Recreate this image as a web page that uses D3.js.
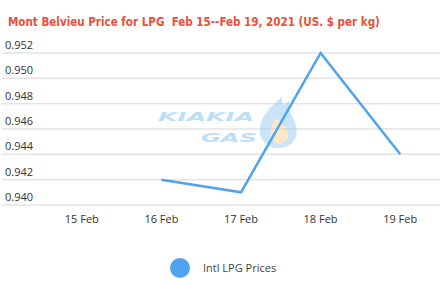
<!DOCTYPE html>
<html>
<head>
<meta charset="utf-8">
<script src="https://cdn.jsdelivr.net/npm/d3@7"></script>
<style>
  body { margin: 0; background: #fff; }
</style>
</head>
<body>
<div id="chart"></div>
<script>
const dates = ["15 Feb", "16 Feb", "17 Feb", "18 Feb", "19 Feb"];
const prices = [null, 0.942, 0.941, 0.952, 0.944];
const yTicks = [0.940, 0.942, 0.944, 0.946, 0.948, 0.950, 0.952];
const seriesName = "Intl LPG Prices";
const title = "Mont Belvieu Price for LPG  Feb 15--Feb 19, 2021 (US. $ per kg)";

const width = 448;
const height = 286;

const svg = d3.select("#chart")
  .append("svg")
  .attr("width", width)
  .attr("height", height);

const x = d3.scaleBand()
  .domain(dates)
  .range([42, 440]);

const y = d3.scaleLinear()
  .domain([0.940, 0.952])
  .range([205, 53]);

// title - scale font so it spans about 372px like the original
const titleText = svg.append("text")
  .attr("x", 8)
  .attr("y", 26)
  .attr("fill", "#e9503a")
  .style("white-space", "pre")
  .style("font-family", "'Liberation Sans Narrow', 'DejaVu Sans Condensed', sans-serif")
  .style("font-weight", "bold")
  .style("font-size", "15px")
  .text(title);
const tw = titleText.node().getComputedTextLength();
titleText.style("font-size", (15 * 372 / tw).toFixed(2) + "px");

// gridlines + y labels
const grid = svg.append("g");
grid.selectAll("line")
  .data(yTicks)
  .enter()
  .append("line")
  .attr("x1", 2)
  .attr("x2", 440)
  .attr("y1", d => y(d))
  .attr("y2", d => y(d))
  .attr("stroke", "#e3e3e3")
  .attr("stroke-width", 1.5);

grid.selectAll("text")
  .data(yTicks)
  .enter()
  .append("text")
  .attr("x", 5)
  .attr("y", d => y(d) - 4)
  .attr("fill", "#333")
  .style("font-family", "'Open Sans', sans-serif")
  .style("font-size", "11px")
  .text(d => d3.format(".3f")(d));

// x labels
svg.append("g")
  .selectAll("text")
  .data(dates)
  .enter()
  .append("text")
  .attr("x", d => x(d) + x.bandwidth() / 2)
  .attr("y", 223)
  .attr("text-anchor", "middle")
  .attr("fill", "#333")
  .style("font-family", "'Open Sans', sans-serif")
  .style("font-size", "11px")
  .text(d => d);

// watermark
const wm = svg.append("g").attr("opacity", 0.4);
wm.append("text")
  .attr("x", 206)
  .attr("y", 121)
  .attr("text-anchor", "middle")
  .attr("fill", "#5ab0f0")
  .style("font-family", "'DejaVu Sans', sans-serif")
  .style("font-weight", "bold")
  .style("font-style", "italic")
  .style("font-size", "13px")
  .attr("textLength", 96)
  .attr("lengthAdjust", "spacingAndGlyphs")
  .text("KIAKIA");
wm.append("text")
  .attr("x", 229)
  .attr("y", 142)
  .attr("text-anchor", "middle")
  .attr("fill", "#5ab0f0")
  .style("font-family", "'DejaVu Sans', sans-serif")
  .style("font-weight", "bold")
  .style("font-style", "italic")
  .style("font-size", "13px")
  .attr("textLength", 56)
  .attr("lengthAdjust", "spacingAndGlyphs")
  .text("GAS");
wm.append("path")
  .attr("d", "M282,97 C268,108 258,120 260,134 C262,144 272,149 280,148 C292,147 299,138 296,126 C294,116 286,110 290,100 C284,104 282,110 282,97 Z")
  .attr("fill", "#7cc0f5");
wm.append("path")
  .attr("d", "M276,118 C270,126 268,136 274,142 C280,146 288,142 288,134 C288,128 282,124 276,118 Z")
  .attr("fill", "#f5c878");

// line
const line = d3.line()
  .defined(d => d.value != null)
  .x(d => x(d.date) + x.bandwidth() / 2)
  .y(d => y(d.value));

const data = dates.map((d, i) => ({ date: d, value: prices[i] }));

svg.append("path")
  .datum(data)
  .attr("d", line)
  .attr("fill", "none")
  .attr("stroke", "#4fa3ef")
  .attr("stroke-width", 2.5);

// legend
svg.append("circle")
  .attr("cx", 180)
  .attr("cy", 268)
  .attr("r", 10)
  .attr("fill", "#4fa3ef");

svg.append("text")
  .attr("x", 203)
  .attr("y", 272)
  .attr("fill", "#444")
  .style("font-family", "'Open Sans', sans-serif")
  .style("font-size", "11px")
  .text(seriesName);
</script>
</body>
</html>
